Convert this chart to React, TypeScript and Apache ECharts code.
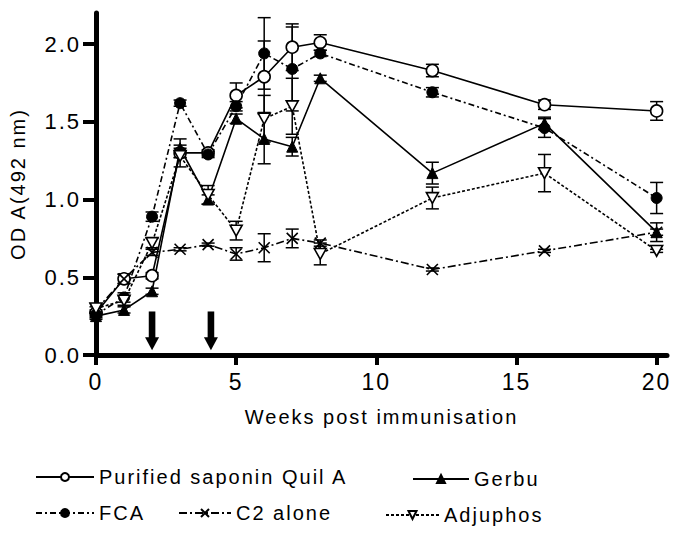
import React, { useEffect, useRef } from "react";
import * as echarts from "echarts";

// ---- data ----
const weeks = [0, 1, 2, 3, 4, 5, 6, 7, 8, 12, 16, 20];

const quilA = [0.27, 0.49, 0.51, 1.3, 1.3, 1.67, 1.79, 1.98, 2.01, 1.83, 1.61, 1.57];
const quilAErr = [0.02, 0.03, 0.02, 0.03, 0.02, 0.08, 0.23, 0.15, 0.05, 0.04, 0.03, 0.06];

const fca = [0.26, 0.37, 0.89, 1.62, 1.29, 1.6, 1.94, 1.84, 1.94, 1.69, 1.46, 1.01];
const fcaErr = [0.02, 0.03, 0.03, 0.02, 0.02, 0.03, 0.23, 0.27, 0.02, 0.03, 0.06, 0.1];

const gerbu = [0.25, 0.29, 0.41, 1.33, 1.0, 1.52, 1.39, 1.34, 1.78, 1.17, 1.49, 0.79];
const gerbuErr = [0.02, 0.02, 0.02, 0.06, 0.03, 0.03, 0.16, 0.06, 0.02, 0.07, 0.04, 0.06];

const c2 = [0.29, 0.49, 0.66, 0.68, 0.71, 0.65, 0.69, 0.75, 0.72, 0.55, 0.67, 0.79];
const c2Err = [0.02, 0.03, 0.02, 0.01, 0.01, 0.04, 0.09, 0.06, 0.02, 0.01, 0.01, 0.02];

const adjuphos = [0.3, 0.35, 0.72, 1.28, 1.03, 0.8, 1.52, 1.6, 0.65, 1.01, 1.17, 0.67];
const adjuphosErr = [0.03, 0.03, 0.03, 0.07, 0.06, 0.06, 0.15, 0.18, 0.07, 0.07, 0.12, 0.01];

const xTicks = [0, 5, 10, 15, 20];
const yTicks = [0, 0.5, 1, 1.5, 2];

const arrowWeeks = [2, 4.1];
const arrowTop = 0.28;
const arrowTip = 0.03;

const FONT = "'Liberation Sans', Arial, Helvetica, sans-serif";

const pairs = (vals: number[]) => weeks.map((w, i) => [w, vals[i]]);

function errSeries(name: string, m: number[], e: number[]) {
  return {
    type: "custom",
    name,
    silent: true,
    z: 1,
    data: weeks.map((w, i) => [w, m[i] - e[i], m[i] + e[i]]),
    encode: { x: 0, y: [1, 2] },
    renderItem: (params: any, api: any) => {
      const x = api.value(0);
      const lo = api.coord([x, api.value(1)]);
      const hi = api.coord([x, api.value(2)]);
      const hw = 6.5;
      const style = { stroke: "#000", lineWidth: 1.5, fill: "none" };
      return {
        type: "group",
        children: [
          { type: "line", shape: { x1: lo[0], y1: lo[1], x2: hi[0], y2: hi[1] }, style },
          { type: "line", shape: { x1: lo[0] - hw, y1: lo[1], x2: lo[0] + hw, y2: lo[1] }, style },
          { type: "line", shape: { x1: hi[0] - hw, y1: hi[1], x2: hi[0] + hw, y2: hi[1] }, style },
        ],
      };
    },
  };
}

const legendCommon = {
  orient: "horizontal",
  selectedMode: false,
  padding: 0,
  itemHeight: 10,
  textStyle: { fontSize: 20, color: "#000", fontFamily: FONT },
};

export default function App() {
  const ref = useRef<HTMLDivElement>(null);

  useEffect(() => {
    if (!ref.current) return;
    const chart = echarts.init(ref.current, null, { renderer: "svg" });
    const option: any = {
      animation: false,
      backgroundColor: "#fff",
      textStyle: { fontFamily: FONT, color: "#000" },
      grid: { left: 95, right: 18, top: 13, bottom: 183, containLabel: false },
      xAxis: {
        type: "value",
        min: 0,
        max: 20.37,
        name: "Weeks post immunisation",
        nameLocation: "middle",
        nameGap: 52,
        nameTextStyle: { fontSize: 20, color: "#000", fontFamily: FONT },
        axisLine: { show: true, lineStyle: { color: "#000", width: 5 } },
        axisTick: { show: true, length: 10, lineStyle: { color: "#000", width: 4 }, customValues: xTicks },
        axisLabel: { fontSize: 23, color: "#000", margin: 15, fontFamily: FONT, customValues: xTicks },
        splitLine: { show: false },
      },
      yAxis: {
        type: "value",
        min: 0,
        max: 2.2,
        name: "OD A(492 nm)",
        nameLocation: "middle",
        nameGap: 68,
        nameRotate: 90,
        nameTextStyle: { fontSize: 20, color: "#000", fontFamily: FONT },
        axisLine: { show: true, lineStyle: { color: "#000", width: 5 } },
        axisTick: { show: true, length: 13, lineStyle: { color: "#000", width: 4 }, customValues: yTicks },
        axisLabel: {
          fontSize: 22,
          color: "#000",
          margin: 15,
          fontFamily: FONT,
          customValues: yTicks,
          formatter: (v: number) => v.toFixed(1),
        },
        splitLine: { show: false },
      },
      legend: [
        { ...legendCommon, data: ["Purified saponin Quil A"], left: 35, top: 467, itemWidth: 58 },
        { ...legendCommon, data: ["Gerbu"], left: 412, top: 469, itemWidth: 56 },
        { ...legendCommon, data: ["FCA"], left: 35, top: 503, itemWidth: 58 },
        { ...legendCommon, data: ["C2 alone"], left: 178, top: 503, itemWidth: 52 },
        { ...legendCommon, data: ["Adjuphos"], left: 385, top: 505, itemWidth: 53 },
      ],
      series: [
        errSeries("quilA-err", quilA, quilAErr),
        errSeries("fca-err", fca, fcaErr),
        errSeries("gerbu-err", gerbu, gerbuErr),
        errSeries("c2-err", c2, c2Err),
        errSeries("adjuphos-err", adjuphos, adjuphosErr),
        {
          type: "line",
          name: "Purified saponin Quil A",
          data: pairs(quilA),
          z: 3,
          symbol: "circle",
          symbolSize: 12,
          lineStyle: { color: "#000", width: 1.6, type: "solid" },
          itemStyle: { color: "#fff", borderColor: "#000", borderWidth: 1.6 },
        },
        {
          type: "line",
          name: "Gerbu",
          data: pairs(gerbu),
          z: 3,
          symbol: "triangle",
          symbolSize: 11,
          lineStyle: { color: "#000", width: 1.6, type: "solid" },
          itemStyle: { color: "#000", borderColor: "#000", borderWidth: 1 },
        },
        {
          type: "line",
          name: "FCA",
          data: pairs(fca),
          z: 3,
          symbol: "circle",
          symbolSize: 11,
          lineStyle: { color: "#000", width: 1.6, type: [6, 3, 2, 3] },
          itemStyle: { color: "#000", borderColor: "#000", borderWidth: 1 },
        },
        {
          type: "line",
          name: "C2 alone",
          data: pairs(c2),
          z: 3,
          symbol: "path://M0,0L10,10M10,0L0,10",
          symbolSize: 11,
          symbolKeepAspect: true,
          lineStyle: { color: "#000", width: 1.6, type: [8, 3, 2, 3] },
          itemStyle: { color: "#000", borderColor: "#000", borderWidth: 1.6 },
        },
        {
          type: "line",
          name: "Adjuphos",
          data: pairs(adjuphos),
          z: 3,
          symbol: "path://M0,0L10,0L5,9Z",
          symbolSize: 12,
          symbolKeepAspect: true,
          lineStyle: { color: "#000", width: 1.6, type: [3, 2] },
          itemStyle: { color: "#fff", borderColor: "#000", borderWidth: 1.6 },
        },
        {
          type: "custom",
          name: "arrows",
          silent: true,
          z: 4,
          data: arrowWeeks.map((w) => [w, arrowTop, arrowTip]),
          encode: { x: 0, y: [1, 2] },
          renderItem: (params: any, api: any) => {
            const top = api.coord([api.value(0), api.value(1)]);
            const tip = api.coord([api.value(0), api.value(2)]);
            const headLen = 13;
            const headHalf = 7;
            const shaftHalf = 3.3;
            return {
              type: "group",
              children: [
                {
                  type: "rect",
                  shape: { x: top[0] - shaftHalf, y: top[1], width: 2 * shaftHalf, height: tip[1] - headLen - top[1] + 1 },
                  style: { fill: "#000" },
                },
                {
                  type: "polygon",
                  shape: {
                    points: [
                      [tip[0] - headHalf, tip[1] - headLen],
                      [tip[0] + headHalf, tip[1] - headLen],
                      [tip[0], tip[1]],
                    ],
                  },
                  style: { fill: "#000" },
                },
              ],
            };
          },
        },
      ],
    };
    chart.setOption(option);
    return () => chart.dispose();
  }, []);

  return (
    <div
      ref={ref}
      style={{ position: "fixed", left: 0, top: 0, width: 685, height: 538, letterSpacing: "2px", background: "#fff" }}
    />
  );
}
